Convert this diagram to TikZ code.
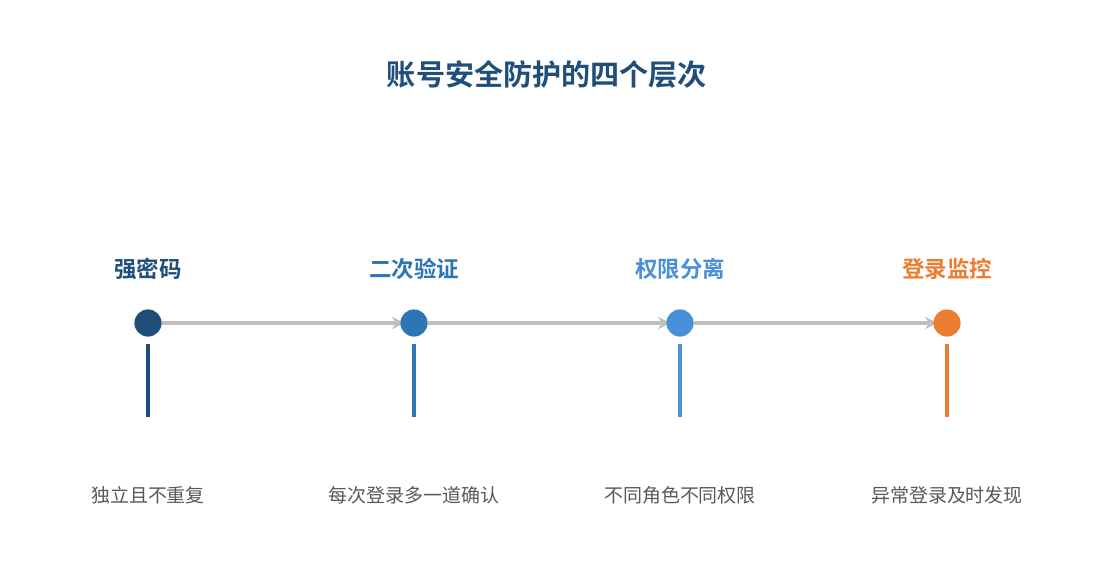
\documentclass[tikz,border=0pt]{standalone}
\usepackage{fontspec}
\setmainfont{Noto Sans CJK SC}
\newfontfamily\cjkbold{Noto Sans CJK SC Bold}
\usetikzlibrary{positioning,shapes,arrows,backgrounds}
\definecolor{navy}{HTML}{1F4E79}
\definecolor{midblue}{HTML}{2E75B6}
\definecolor{lightblue}{HTML}{4A90D9}
\definecolor{orange}{HTML}{ED7D31}
\definecolor{linegray}{HTML}{BFBFBF}
\definecolor{textgray}{HTML}{595959}
\tikzset{
  dot/.style={circle, minimum size=0.68cm, inner sep=0pt},
  head/.style={font=\cjkbold\fontsize{16}{18}\selectfont},
  desc/.style={font=\fontsize{13.5}{16}\selectfont, text=textgray},
  stem/.style={line width=0.1cm},
  link/.style={->, >=stealth, line width=0.1cm, draw=linegray, shorten >=-3pt}
}
\begin{document}
\begin{tikzpicture}
\useasboundingbox (0,0) rectangle (27.375,14.625);
\node[font=\cjkbold\fontsize{20.7}{24}\selectfont, text=navy] (title) at (13.675,12.775) {账号安全防护的四个层次};
\node[dot, fill=navy] (c1) at (3.7,6.55) {};
\node[dot, fill=midblue] (c2) at (10.35,6.55) {};
\node[dot, fill=lightblue] (c3) at (17.0,6.55) {};
\node[dot, fill=orange] (c4) at (23.675,6.55) {};
\begin{scope}[on background layer]
\draw[link] (c1) -- (c2);
\draw[link] (c2) -- (c3);
\draw[link] (c3) -- (c4);
\end{scope}
\node[head, text=navy] (h1) at (3.7,7.9) {强密码};
\node[head, text=midblue] (h2) at (10.35,7.9) {二次验证};
\node[head, text=lightblue] (h3) at (17.0,7.9) {权限分离};
\node[head, text=orange] (h4) at (23.675,7.9) {登录监控};
\coordinate (s1) at (3.7,6.025);
\coordinate (e1) at (3.7,4.2);
\coordinate (s2) at (10.35,6.025);
\coordinate (e2) at (10.35,4.2);
\coordinate (s3) at (17.0,6.025);
\coordinate (e3) at (17.0,4.2);
\coordinate (s4) at (23.675,6.025);
\coordinate (e4) at (23.675,4.2);
\draw[stem, navy] (s1) -- (e1);
\draw[stem, midblue] (s2) -- (e2);
\draw[stem, lightblue] (s3) -- (e3);
\draw[stem, orange] (s4) -- (e4);
\node[desc] (d1) at (3.7,2.25) {独立且不重复};
\node[desc] (d2) at (10.35,2.25) {每次登录多一道确认};
\node[desc] (d3) at (17.0,2.25) {不同角色不同权限};
\node[desc] (d4) at (23.675,2.25) {异常登录及时发现};
\end{tikzpicture}
\end{document}
